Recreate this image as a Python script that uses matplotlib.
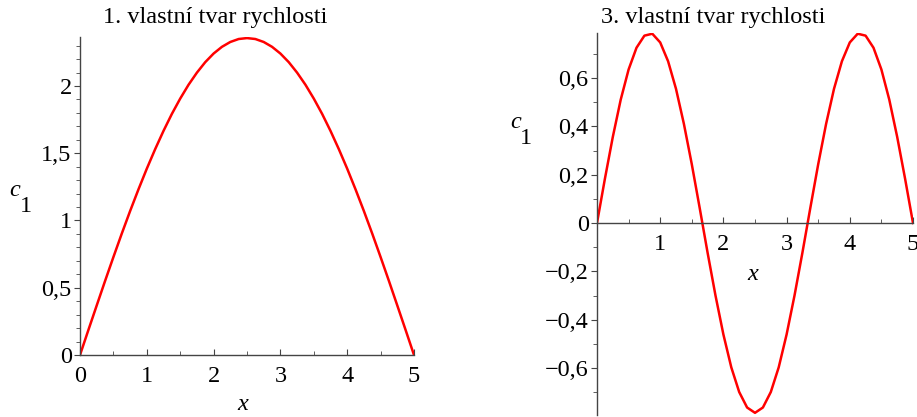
import matplotlib
matplotlib.use('Agg')
import matplotlib.pyplot as plt
from matplotlib.ticker import MultipleLocator, FixedLocator, FuncFormatter

# first mode
x1 = [0.0, 0.125, 0.25, 0.375, 0.5, 0.625, 0.75, 0.875, 1.0, 1.125, 1.25,
      1.375, 1.5, 1.625, 1.75, 1.875, 2.0, 2.125, 2.25, 2.375, 2.5,
      2.625, 2.75, 2.875, 3.0, 3.125, 3.25, 3.375, 3.5, 3.625, 3.75,
      3.875, 4.0, 4.125, 4.25, 4.375, 4.5, 4.625, 4.75, 4.875, 5.0]
c1_mode1 = [0.0, 0.185, 0.368, 0.550, 0.728, 0.902, 1.070, 1.231, 1.385, 1.530, 1.666,
            1.792, 1.906, 2.009, 2.099, 2.177, 2.241, 2.291, 2.327, 2.349, 2.356,
            2.349, 2.327, 2.291, 2.241, 2.177, 2.099, 2.009, 1.906, 1.792, 1.666,
            1.530, 1.385, 1.231, 1.070, 0.902, 0.728, 0.550, 0.368, 0.185, 0.0]

# third mode
x3 = [0.0, 0.125, 0.25, 0.375, 0.5, 0.625, 0.75, 0.875, 1.0, 1.125, 1.25,
      1.375, 1.5, 1.625, 1.75, 1.875, 2.0, 2.125, 2.25, 2.375, 2.5,
      2.625, 2.75, 2.875, 3.0, 3.125, 3.25, 3.375, 3.5, 3.625, 3.75,
      3.875, 4.0, 4.125, 4.25, 4.375, 4.5, 4.625, 4.75, 4.875, 5.0]
c1_mode3 = [0.0, 0.183, 0.356, 0.510, 0.635, 0.725, 0.775, 0.783, 0.747, 0.669, 0.555,
            0.410, 0.243, 0.062, -0.123, -0.300, -0.461, -0.597, -0.699, -0.763, -0.785,
            -0.763, -0.699, -0.597, -0.461, -0.300, -0.123, 0.062, 0.243, 0.410, 0.555,
            0.669, 0.747, 0.783, 0.775, 0.725, 0.635, 0.510, 0.356, 0.183, 0.0]

titles = ["1. vlastní tvar rychlosti", "3. vlastní tvar rychlosti"]
left_yticks = [0, 0.5, 1, 1.5, 2]
right_yticks = [-0.6, -0.4, -0.2, 0, 0.2, 0.4, 0.6]
right_xticks = [1, 2, 3, 4, 5]

FONT = 'Liberation Serif'
FS = 17.5
AXCOL = '#444444'
plt.rcParams['font.family'] = FONT

W, H = 917, 417
fig = plt.figure(figsize=(W / 100, H / 100), dpi=100)


def px_rect(l, t, r, b):
    return [l / W, 1 - b / H, (r - l) / W, (b - t) / H]


def comma(v, pos):
    s = ('%g' % round(v, 2)).replace('.', ',')
    return s.replace('-', '\u2212')


def style(ax):
    for s in ['top', 'right']:
        ax.spines[s].set_visible(False)
    for s in ['left', 'bottom']:
        ax.spines[s].set_color(AXCOL)
        ax.spines[s].set_linewidth(1.0)
    ax.tick_params(axis='y', which='both', direction='out', color=AXCOL,
                   labelsize=FS, pad=2)
    ax.tick_params(axis='y', which='major', length=4)
    ax.tick_params(axis='y', which='minor', length=3)
    ax.tick_params(axis='x', which='both', direction='in', color=AXCOL,
                   labelsize=FS)
    ax.tick_params(axis='x', which='major', length=4, pad=8)
    ax.tick_params(axis='x', which='minor', length=3)
    ax.yaxis.set_major_formatter(FuncFormatter(comma))
    ax.patch.set_visible(False)


# left panel
ax1 = fig.add_axes(px_rect(80, 37, 414, 355))
ax1.plot(x1, c1_mode1, color='red', lw=1.8)
ax1.set_xlim(0, 5)
ax1.set_ylim(0, 2.364)
style(ax1)
ax1.yaxis.set_major_locator(FixedLocator(left_yticks))
ax1.yaxis.set_minor_locator(MultipleLocator(0.1))
ax1.xaxis.set_major_locator(MultipleLocator(1))
ax1.xaxis.set_minor_locator(MultipleLocator(0.5))

# right panel
ax2 = fig.add_axes(px_rect(597, 33, 913, 415))
ax2.plot(x3, c1_mode3, color='red', lw=1.8)
ax2.set_xlim(0, 5)
ax2.set_ylim(-0.794, 0.786)
style(ax2)
ax2.spines['bottom'].set_position(('data', 0))
ax2.yaxis.set_major_locator(FixedLocator(right_yticks))
ax2.yaxis.set_minor_locator(MultipleLocator(0.1))
ax2.xaxis.set_major_locator(FixedLocator(right_xticks))
ax2.xaxis.set_minor_locator(MultipleLocator(0.5))

# titles and axis labels as figure text (pixel coords)
def ftext(x, y, s, **kw):
    fig.text(x / W, 1 - y / H, s, fontsize=kw.pop('fontsize', FS),
             ha=kw.pop('ha', 'center'), va=kw.pop('va', 'center'), **kw)

ftext(215, 18, titles[0])
ftext(713, 17, titles[1])
ftext(243, 405, 'x', style='italic')
ftext(753, 275, 'x', style='italic')
ftext(15, 190, 'c', style='italic')
ftext(26, 206, '1')
ftext(516, 123, 'c', style='italic')
ftext(526, 139, '1')

fig.savefig('out.png', dpi=100)
